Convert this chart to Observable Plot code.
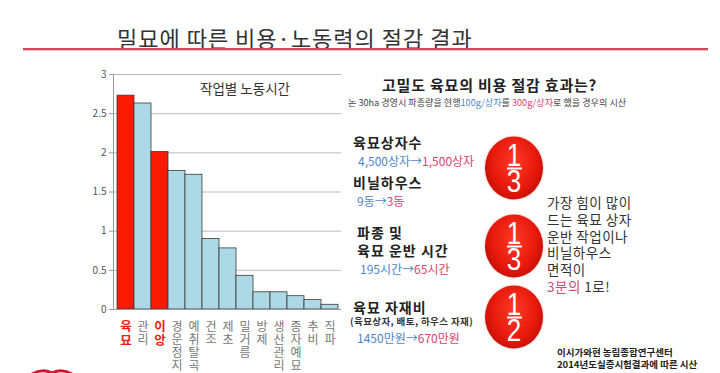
<!DOCTYPE html>
<html><head><meta charset="utf-8">
<script src="https://cdn.jsdelivr.net/npm/d3@7"></script>
<script src="https://cdn.jsdelivr.net/npm/@observablehq/plot@0.6"></script>
<style>
body{margin:0;background:#fff;}
#slide{position:relative;width:720px;height:373px;overflow:hidden;background:#fff;font-family:"Noto Sans CJK KR","Noto Sans",sans-serif;}
.t{position:absolute;white-space:nowrap;line-height:1;transform:translateY(-50%);}
.b{font-weight:700;}
.blue{color:#4f86c6;}
.pink{color:#dc426c;}
.circ{position:absolute;width:58px;height:63px;border-radius:50%;transform:translate(-50%,-50%);
 background:radial-gradient(ellipse at 50% 40%,#ff3a26 0%,#e6180c 55%,#b80c06 85%,#e85a50 100%);
 box-shadow:0 0 2px rgba(200,40,30,0.5);}
.frac{position:absolute;left:0;right:0;height:24px;text-align:center;color:#fff;font-family:"Liberation Sans","DejaVu Sans",sans-serif;font-size:31px;line-height:24px;transform:scaleX(0.84);}
.fbar{position:absolute;left:50%;width:15px;margin-left:-7.5px;height:2px;background:#fff;top:31px;}
</style></head>
<body><div id="slide"></div>
<script>
const categories = ["육묘","관리","이앙","경운정지","예취탈곡","건조","제초","밀거름","방제","생산관리","종자예묘","추비","직파"];
const hours = [2.73, 2.63, 2.01, 1.77, 1.72, 0.90, 0.78, 0.43, 0.22, 0.22, 0.17, 0.12, 0.06];
const highlighted = ["육묘","이앙"];
const yTicks = [0, 0.5, 1, 1.5, 2, 2.5, 3];
const yTickLabels = ["0","0.5","1","1.5","2","2.5","3"];

const data = categories.map((c, i) => ({cat: c, v: hours[i], hi: highlighted.includes(c)}));
const stack = s => s.split("").join("\n");

const slide = document.getElementById("slide");

const plot = Plot.plot({
  width: 270, height: 313,
  marginLeft: 33, marginTop: 14, marginBottom: 64, marginRight: 9,
  x: {domain: categories, padding: 0, axis: null},
  y: {domain: [0, 3]},
  style: {fontFamily: "'Noto Sans CJK KR','Noto Sans',sans-serif", background: "transparent", color: "#555"},
  marks: [
    Plot.gridY(yTicks, {stroke: "#a8a8a8", strokeOpacity: 1, strokeWidth: 0.8}),
    Plot.axisY(yTicks, {tickSize: 4, tickPadding: 3, tickFormat: d => yTickLabels[yTicks.indexOf(d)], fill: "#555", stroke: "#999", fontSize: 10, label: null}),
    Plot.barY(data, {x: "cat", y: "v", fill: d => d.hi ? "#fa1a00" : "#add8e6", stroke: "#3a3a3a", strokeWidth: 0.8}),
    Plot.frame({anchor: "left", stroke: "#999"}),
    Plot.ruleY([0], {stroke: "#999"}),
    Plot.text(data.filter(d => !d.hi), {x: "cat", y: 0, text: d => stack(d.cat), lineAnchor: "top", dy: 12, fill: "#777", fontSize: 12, lineHeight: 1.1}),
    Plot.text(data.filter(d => d.hi), {x: "cat", y: 0, text: d => stack(d.cat), lineAnchor: "top", dy: 12, fill: "#ee1c0a", fontSize: 12.5, fontWeight: "bold", lineHeight: 1.1})
  ]
});
plot.style.position = "absolute";
plot.style.left = "80px";
plot.style.top = "60px";
slide.appendChild(plot);

function txt(html, x, y, size, cls = "", extra = "") {
  const d = document.createElement("div");
  d.className = "t " + cls;
  d.style.left = x + "px";
  d.style.top = y + "px";
  d.style.fontSize = size + "px";
  if (extra) d.style.cssText += extra;
  d.innerHTML = html;
  slide.appendChild(d);
  return d;
}

// slide title & rule
txt("밀묘에 따른 비용·노동력의 절감 결과", 117, 37, 22, "", "color:#333;letter-spacing:1px;");
const rule = document.createElement("div");
rule.style.cssText = "position:absolute;left:23px;top:48px;width:685px;height:2px;background:#cf4a5c;box-shadow:0 1px 1px rgba(220,120,130,0.5);";
slide.appendChild(rule);

// chart title
txt("작업별 노동시간", 245, 89, 13.5, "", "color:#333;transform:translate(-50%,-50%);");

// right panel
txt("고밀도 육묘의 비용 절감 효과는?", 382, 84, 15, "b", "color:#222;letter-spacing:0.8px;");
txt('논 30ha 경영시 파종량을 현행<span class="blue">100g/상자</span>를 <span class="pink">300g/상자</span>로 했을 경우의 시산', 348, 103, 9.1, "", "color:#444;");

const hs = "color:#222;letter-spacing:1px;";
txt("육묘상자수", 353, 142, 14, "b", hs);
txt('<span class="blue">4,500상자→</span><span class="pink">1,500상자</span>', 358, 161, 12);
txt("비닐하우스", 353, 182, 14, "b", hs);
txt('<span class="blue">9동→</span><span class="pink">3동</span>', 357, 201, 12);
txt("파종 및", 357, 232, 14, "b", hs);
txt("육묘 운반 시간", 357, 250, 14, "b", hs);
txt('<span class="blue">195시간→</span><span class="pink">65시간</span>', 360, 269, 12);
txt("육묘 자재비", 353, 307, 14, "b", hs);
txt("(육묘상자, 배토, 하우스 자재)", 350, 322, 9.5, "b", "color:#333;letter-spacing:0.4px;");
txt('<span class="blue">1450만원→</span><span class="pink">670만원</span>', 357, 338, 12);

// fraction circles
function circle(cy, num, den) {
  const c = document.createElement("div");
  c.className = "circ";
  c.style.left = "514px";
  c.style.top = cy + "px";
  c.innerHTML = `<div class="frac" style="top:7px">${num}</div><div class="fbar"></div><div class="frac" style="top:33px">${den}</div>`;
  slide.appendChild(c);
}
circle(168, "1", "3");
circle(246, "1", "3");
circle(317, "1", "2");

// side note
const note = ["가장 힘이 많이", "드는 육묘 상자", "운반 작업이나", "비닐하우스", "면적이"];
const noteY = [203, 220, 237, 253, 270];
note.forEach((s, i) => txt(s, 547, noteY[i], 13.5, "", "color:#333;letter-spacing:0.5px;"));
txt('<span style="color:#cc4a80">3분의 </span>1로!', 547, 287, 13.5, "", "color:#333;letter-spacing:0.5px;");

// source
txt("이시가와현 농림종합연구센터", 557, 353, 9.5, "b", "color:#222;");
txt("2014년도실증시험결과에 따른 시산", 557, 365, 9.5, "b", "color:#222;");

// bottom-left decoration
const deco = document.createElementNS("http://www.w3.org/2000/svg", "svg");
deco.setAttribute("width", "60"); deco.setAttribute("height", "10");
deco.style.cssText = "position:absolute;left:25px;top:365px;";
deco.innerHTML = '<path d="M7 9 Q17 3 27 8 Q37 3 47 9" fill="none" stroke="#d01830" stroke-width="3"/>';
slide.appendChild(deco);
</script></body></html>
